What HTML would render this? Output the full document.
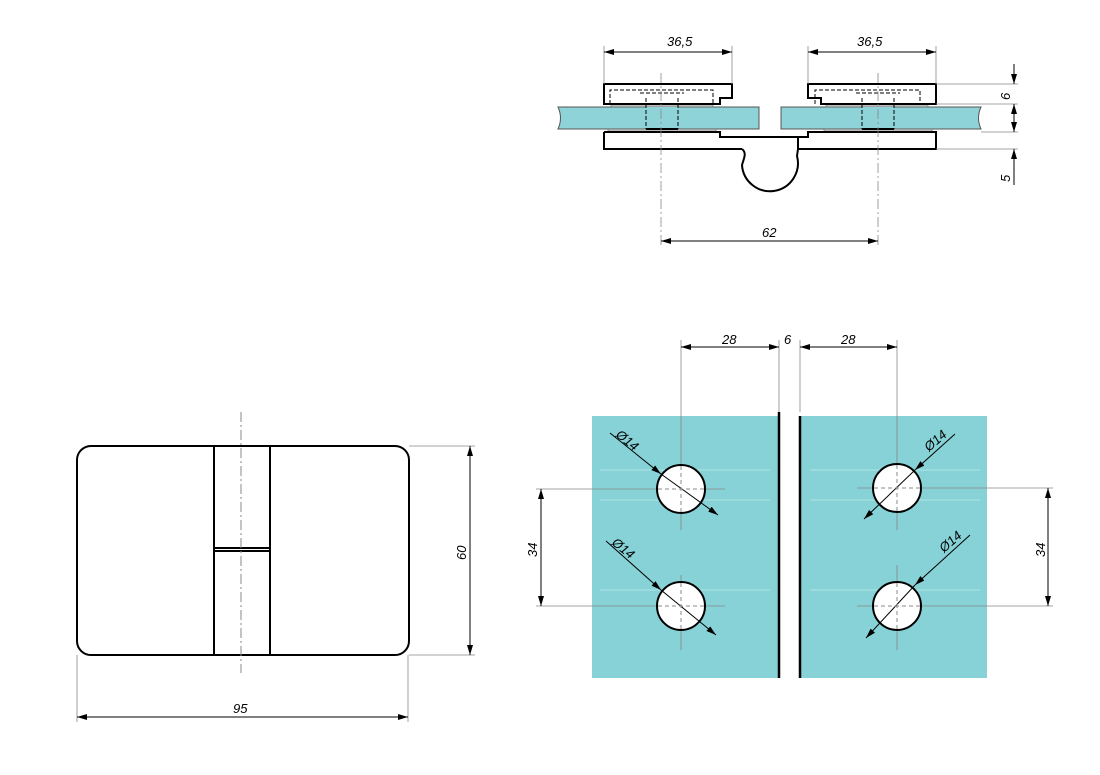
<!DOCTYPE html>
<html><head><meta charset="utf-8"><style>html,body{margin:0;padding:0;background:#fff}svg{display:block}text{font-family:"Liberation Sans",sans-serif;font-size:13px;font-style:italic;fill:#000}</style></head><body>
<svg width="1100" height="775" viewBox="0 0 1100 775" xmlns="http://www.w3.org/2000/svg">
<defs>
<marker id="a" viewBox="0 0 10 6" refX="10" refY="3" markerWidth="10" markerHeight="6" orient="auto-start-reverse" markerUnits="userSpaceOnUse"><path d="M0,0L10,3L0,6z" fill="#000"/></marker>
</defs>
<!-- TOP SECTION -->
<g fill="#8ed3d8" stroke="#555" stroke-width="1">
<path d="M558,107H759V129H558Q563,118 558,107z"/>
<path d="M781,107H981Q976,118 981,129H781z"/>
</g>
<g fill="#bbb" stroke="#666" stroke-width="0.6">
<rect x="611" y="104" width="102" height="3"/><rect x="826" y="104" width="102" height="3"/>
<rect x="608" y="129" width="108" height="3"/><rect x="824" y="129" width="108" height="3"/>
</g>
<rect x="646" y="107" width="32" height="22" fill="#8ed3d8"/><rect x="862" y="107" width="32" height="22" fill="#8ed3d8"/>
<line x1="646" y1="129" x2="678" y2="129" stroke="#000" stroke-width="2"/><line x1="862" y1="129" x2="894" y2="129" stroke="#000" stroke-width="2"/>
<g fill="none" stroke="#000" stroke-width="2">
<path d="M604,84H732V98H720V104H604z"/>
<path d="M808,84H936V104H821V98H808z"/>
<path d="M604,132H720V137H798M604,132V149H742"/>
<path d="M821,132H936V149H798V137H808V132H821"/>
<path d="M742,149C747,153 744,158 742,165A28,28 0 1 0 797,156L798,149"/>
</g>
<g fill="none" stroke="#000" stroke-width="1" stroke-dasharray="4,2">
<path d="M610,104V90H713V104M815,104V90H920V104"/>
<path d="M640,93H684M856,93H900M646,98V129M678,98V129M862,98V129M894,98V129"/>
</g>
<g stroke="#888" stroke-width="0.8">
<line x1="661" y1="73" x2="661" y2="245" stroke-dasharray="10,3,2,3"/>
<line x1="878" y1="73" x2="878" y2="245" stroke-dasharray="10,3,2,3"/>
<line x1="604" y1="46" x2="604" y2="84"/><line x1="732" y1="46" x2="732" y2="84"/>
<line x1="808" y1="46" x2="808" y2="84"/><line x1="936" y1="46" x2="936" y2="84"/>
<line x1="936" y1="84" x2="1018" y2="84"/><line x1="936" y1="104" x2="1018" y2="104"/>
<line x1="981" y1="132" x2="1018" y2="132"/><line x1="936" y1="149" x2="1018" y2="149"/>
</g>
<g stroke="#000" stroke-width="1">
<line x1="604" y1="52" x2="732" y2="52" marker-start="url(#a)" marker-end="url(#a)"/>
<line x1="808" y1="52" x2="936" y2="52" marker-start="url(#a)" marker-end="url(#a)"/>
<line x1="661" y1="241" x2="878" y2="241" marker-start="url(#a)" marker-end="url(#a)"/>
<line x1="1014" y1="64" x2="1014" y2="84" marker-end="url(#a)"/>
<line x1="1014" y1="104" x2="1014" y2="132" marker-start="url(#a)" marker-end="url(#a)"/>
<line x1="1014" y1="149" x2="1014" y2="185" marker-start="url(#a)"/>
</g>
<text x="667" y="46" font-size="14">36,5</text>
<text x="857" y="46" font-size="14">36,5</text>
<text x="762" y="237" font-size="14">62</text>
<text transform="translate(1010,100) rotate(-90)" font-size="14">6</text>
<text transform="translate(1010,182) rotate(-90)" font-size="14">5</text>

<!-- BOTTOM LEFT -->
<rect x="77" y="446" width="332" height="209" rx="14" fill="none" stroke="#000" stroke-width="2"/>
<g stroke="#000" stroke-width="2"><line x1="214" y1="446" x2="214" y2="655"/><line x1="270" y1="446" x2="270" y2="655"/><line x1="214" y1="548" x2="270" y2="548"/><line x1="214" y1="551" x2="270" y2="551"/></g>
<line x1="241" y1="412" x2="241" y2="673" stroke="#888" stroke-width="1" stroke-dasharray="10,3,2,3"/>
<g stroke="#888" stroke-width="0.8"><line x1="409" y1="446" x2="475" y2="446"/><line x1="409" y1="655" x2="475" y2="655"/><line x1="77" y1="655" x2="77" y2="722"/><line x1="408" y1="655" x2="408" y2="722"/></g>
<g stroke="#000" stroke-width="1"><line x1="470" y1="446" x2="470" y2="655" marker-start="url(#a)" marker-end="url(#a)"/><line x1="77" y1="717" x2="408" y2="717" marker-start="url(#a)" marker-end="url(#a)"/></g>
<text transform="translate(466,560) rotate(-90)" font-size="14">60</text>
<text x="233" y="713" font-size="14">95</text>

<!-- BOTTOM RIGHT -->
<rect x="592" y="416" width="187" height="262" fill="#86d2d6"/>
<rect x="800" y="416" width="187" height="262" fill="#86d2d6"/>
<g stroke="#fff" stroke-opacity="0.35" stroke-width="1"><line x1="600" y1="470" x2="770" y2="470"/><line x1="600" y1="500" x2="770" y2="500"/><line x1="600" y1="590" x2="770" y2="590"/><line x1="810" y1="470" x2="980" y2="470"/><line x1="810" y1="500" x2="980" y2="500"/><line x1="810" y1="590" x2="980" y2="590"/></g>
<g stroke="#000" stroke-width="2.5"><line x1="779" y1="412" x2="779" y2="678"/><line x1="800" y1="416" x2="800" y2="678"/></g>
<g stroke="#888" stroke-width="0.8">
<line x1="681" y1="340" x2="681" y2="530"/><line x1="681" y1="575" x2="681" y2="650"/>
<line x1="897" y1="340" x2="897" y2="530"/><line x1="897" y1="565" x2="897" y2="650"/>
<line x1="779" y1="340" x2="779" y2="412"/><line x1="800" y1="340" x2="800" y2="412"/>
<line x1="536" y1="489" x2="725" y2="489"/><line x1="536" y1="606" x2="725" y2="606"/>
<line x1="857" y1="488" x2="1053" y2="488"/><line x1="857" y1="606" x2="1053" y2="606"/>
</g>
<g fill="#fff" stroke="#000" stroke-width="2">
<circle cx="681" cy="489" r="24"/><circle cx="681" cy="606" r="24"/><circle cx="897" cy="488" r="24"/><circle cx="897" cy="606" r="24"/>
</g>
<g stroke="#000" stroke-width="1">
<line x1="610" y1="433" x2="661" y2="474" marker-end="url(#a)"/><line x1="661" y1="474" x2="718" y2="515" marker-end="url(#a)"/>
<line x1="606" y1="541" x2="661" y2="590" marker-end="url(#a)"/><line x1="661" y1="590" x2="716" y2="635" marker-end="url(#a)"/>
<line x1="955" y1="434" x2="915" y2="470" marker-end="url(#a)"/><line x1="915" y1="470" x2="864" y2="519" marker-end="url(#a)"/>
<line x1="970" y1="535" x2="915" y2="585" marker-end="url(#a)"/><line x1="915" y1="585" x2="866" y2="638" marker-end="url(#a)"/>
<line x1="681" y1="347" x2="779" y2="347" marker-start="url(#a)" marker-end="url(#a)"/>
<line x1="800" y1="347" x2="897" y2="347" marker-start="url(#a)" marker-end="url(#a)"/>
<line x1="541" y1="489" x2="541" y2="606" marker-start="url(#a)" marker-end="url(#a)"/>
<line x1="1048" y1="488" x2="1048" y2="606" marker-start="url(#a)" marker-end="url(#a)"/>
</g>
<g stroke="#888" stroke-width="1" stroke-dasharray="4,3">
<line x1="658" y1="489" x2="704" y2="489"/><line x1="681" y1="466" x2="681" y2="512"/>
<line x1="658" y1="606" x2="704" y2="606"/><line x1="681" y1="583" x2="681" y2="629"/>
<line x1="874" y1="488" x2="920" y2="488"/><line x1="897" y1="465" x2="897" y2="511"/>
<line x1="874" y1="606" x2="920" y2="606"/><line x1="897" y1="583" x2="897" y2="629"/>
</g>
<text x="722" y="344" font-size="14">28</text>
<text x="784" y="344" font-size="14">6</text>
<text x="841" y="344" font-size="14">28</text>
<text transform="translate(537,557) rotate(-90)" font-size="14">34</text>
<text transform="translate(1045,557) rotate(-90)" font-size="14">34</text>
<text transform="translate(615,436) rotate(39)" font-size="13">Ø14</text>
<text transform="translate(611,544) rotate(39)" font-size="13">Ø14</text>
<text transform="translate(929,452) rotate(-41)" font-size="13">Ø14</text>
<text transform="translate(944,553) rotate(-41)" font-size="13">Ø14</text>
</svg>
</body></html>
